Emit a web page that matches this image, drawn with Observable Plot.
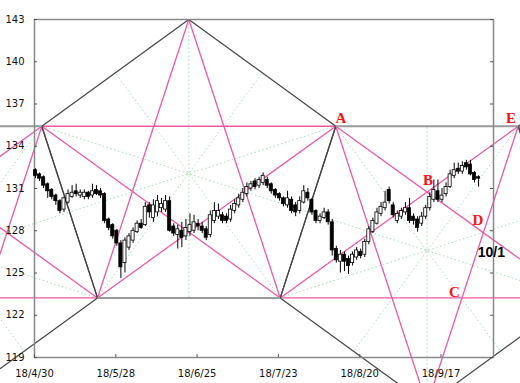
<!DOCTYPE html>
<html><head><meta charset="utf-8">
<script src="https://cdn.jsdelivr.net/npm/d3@7"></script>
<script src="https://cdn.jsdelivr.net/npm/@observablehq/plot@0.6"></script>
<style>html,body{margin:0;padding:0;background:#fff;overflow:hidden;} svg{display:block;overflow:hidden;}</style>
</head><body><div id="chart"></div>
<script>
// ---- candle data (trading-day index 0..109) ----
const opens  = [132.3,132.0,131.8,131.3,130.9,130.5,130.1,129.5,130.0,130.4,130.8,130.5,130.4,130.7,130.5,130.9,130.8,130.6,128.8,128.4,128.0,127.1,125.7,126.8,127.3,127.9,128.5,128.4,129.8,128.9,129.3,129.6,129.5,130.1,128.3,127.7,128.0,127.6,127.9,128.0,128.5,128.3,128.1,127.7,128.7,129.0,129.1,129.0,128.8,129.4,129.8,130.2,130.6,131.0,131.5,131.2,131.4,131.6,131.3,130.9,130.6,130.3,129.8,130.2,129.8,129.4,130.0,130.7,130.2,129.4,128.7,128.9,129.3,128.6,126.7,125.8,126.3,126.0,125.7,126.1,126.5,126.3,127.2,127.9,128.5,129.2,129.6,130.9,129.8,128.7,129.0,129.3,129.6,129.0,128.8,128.5,129.0,129.6,130.2,130.8,130.2,130.6,131.1,131.9,132.4,132.2,132.8,132.7,132.1,131.8];
const closes = [131.9,131.7,131.2,130.8,130.4,130.1,129.4,130.3,130.6,130.7,130.6,130.7,130.7,130.4,130.8,130.6,130.5,128.7,128.2,127.6,127.1,125.4,127.3,127.6,128.0,128.5,128.2,129.7,129.3,129.8,130.1,129.9,130.1,128.0,127.8,128.1,127.5,128.2,128.4,128.6,128.3,128.0,127.5,129.1,129.4,129.4,128.7,128.7,129.5,129.9,130.3,130.7,131.1,131.3,131.1,131.6,131.9,131.2,130.8,130.5,130.3,129.9,130.3,129.4,129.3,130.1,130.8,130.3,129.3,128.7,129.0,129.3,128.6,126.6,125.9,126.3,125.8,125.5,126.3,126.6,126.2,127.2,128.1,128.7,129.3,129.7,130.0,130.1,129.1,129.2,129.4,129.6,128.7,128.7,128.2,129.0,129.6,130.4,130.9,130.2,130.5,131.1,132.0,132.3,132.2,132.6,132.5,132.0,131.6,131.7];
const highs  = [132.4,132.1,131.9,131.4,131.0,130.6,130.2,130.4,130.9,131.2,131.3,130.9,130.9,130.8,131.3,131.2,131.0,130.7,128.9,128.5,128.1,127.3,127.5,127.8,128.2,128.7,128.8,130.0,130.0,130.2,130.5,130.3,130.5,130.4,128.5,128.4,128.6,128.8,129.2,129.1,128.8,128.6,128.3,129.4,130.0,129.9,129.3,129.2,129.8,130.2,130.6,131.0,131.4,131.5,131.7,131.8,132.1,131.8,131.4,131.0,130.7,130.4,130.8,130.4,130.0,130.4,131.2,131.0,130.3,129.5,129.2,129.6,129.5,128.8,126.9,126.6,126.5,126.2,126.5,126.8,126.7,127.4,128.3,128.9,129.6,130.0,130.8,131.1,130.0,129.4,129.6,130.0,130.3,129.2,129.0,129.3,129.8,130.7,131.6,131.6,131.0,131.4,132.3,132.8,132.8,132.9,133.0,133.0,132.2,131.9];
const lows   = [131.7,131.5,131.0,130.3,130.2,129.8,129.2,129.3,129.9,130.3,130.4,130.3,130.2,130.2,130.3,130.5,130.3,128.5,128.0,127.4,126.9,124.6,125.0,126.6,127.1,127.8,128.1,128.3,128.9,128.6,129.0,129.3,129.3,127.9,127.6,126.7,126.8,127.3,127.6,127.8,128.0,127.8,127.3,127.5,128.5,128.8,128.5,128.5,128.6,129.2,129.6,130.0,130.4,130.8,130.9,131.0,131.2,131.0,130.6,130.3,130.1,129.7,129.6,129.2,129.0,129.2,129.9,130.1,129.1,128.5,128.5,128.8,128.4,126.2,125.7,125.0,125.1,124.9,125.5,125.9,126.0,126.1,127.0,127.8,128.4,129.0,129.4,129.9,128.9,128.5,128.8,129.1,128.5,128.4,127.9,128.3,128.8,129.4,130.0,130.0,130.0,130.4,131.0,131.7,132.0,132.0,132.3,131.9,131.4,131.1];

// ---- axes ----
const xTicks  = [0, 20, 40, 60, 80, 100];
const xLabels = ["18/4/30", "18/5/28", "18/6/25", "18/7/23", "18/8/20", "18/9/17"];
const yTicks  = [119, 122, 125, 128, 131, 134, 137, 140, 143];

// ---- pentagon vertices (bar index, price) ----
const pent0 = [[1.80,135.42],[15.5,123.23],[-20.65,115.65],[-56.81,123.23],[-43.1,135.42]];
const pent1 = [[37.96,143.0],[74.12,135.42],[60.45,123.23],[15.5,123.23],[1.80,135.42]];
const pent2 = [[74.12,135.42],[119.0,135.42],[132.7,123.23],[96.56,115.65],[60.45,123.23]];
const pent3 = [[119.0,135.42],[155.16,143.0],[191.3,135.42],[177.6,123.23],[132.7,123.23]];

// ---- annotation labels ----
const markNames = ["A", "B", "C", "D", "E"];
const markX     = [75.4, 96.8, 103.3, 109.1, 117.2];
const markY     = [135.97, 131.57, 123.61, 128.72, 135.97];
const dateNote  = "10/1";
const dateNoteX = 112.4;
const dateNoteY = 126.47;

const candles = opens.map((o, i) => ({u: i + 0.25, o, c: closes[i], h: highs[i], l: lows[i]}));
const edges = [], stars = [], rays = [];
for (const P of [pent0, pent1, pent2, pent3]) {
  for (let i = 0; i < 5; i++) {
    const a = P[i], b = P[(i + 1) % 5], c = P[(i + 2) % 5], d = P[(i + 3) % 5];
    edges.push({x1: a[0], y1: a[1], x2: b[0], y2: b[1], flat: a[1] === b[1]});
    stars.push({x1: a[0], y1: a[1], x2: c[0], y2: c[1]});
    rays.push({x1: a[0], y1: a[1], x2: (c[0] + d[0]) / 2, y2: (c[1] + d[1]) / 2});
  }
}
const labelMap = new Map(xTicks.map((t, i) => [t, xLabels[i]]));
const notes = markNames.map((t, i) => ({t, x: markX[i], y: markY[i]}));

const chart = Plot.plot({
  width: 520, height: 383,
  marginLeft: 34, marginRight: 27, marginTop: 19, marginBottom: 26,
  x: {type: "linear", domain: [0, 112.92]},
  y: {type: "linear", domain: [119, 143]},
  style: {fontFamily: "DejaVu Sans", fontSize: "10px", background: "#fff", overflow: "hidden", color: "#111"},
  marks: [
    Plot.link(rays, {x1: "x1", y1: "y1", x2: "x2", y2: "y2", stroke: "#a6dcb4", strokeWidth: 1, strokeDasharray: "1.5,2.5"}),
    Plot.link(stars, {x1: "x1", y1: "y1", x2: "x2", y2: "y2", stroke: "#ec5aa6", strokeWidth: 1.3}),
    Plot.link(edges.filter(e => !e.flat), {x1: "x1", y1: "y1", x2: "x2", y2: "y2", stroke: "#444", strokeWidth: 1.2}),
    Plot.link(edges.filter(e => e.flat), {x1: "x1", y1: "y1", x2: "x2", y2: "y2", stroke: "#9a9a9a", strokeWidth: 2}),
    Plot.frame({stroke: "#888", strokeWidth: 1.5}),
    Plot.tickY(yTicks, {y: d => d, insetRight: 456, stroke: "#555"}),
    Plot.tickY(yTicks, {y: d => d, insetLeft: 456, stroke: "#555"}),
    Plot.tickX(xTicks, {x: d => d, insetTop: 335, stroke: "#555"}),
    Plot.axisY({ticks: yTicks, tickSize: 0, tickPadding: 10, fontSize: 10}),
    Plot.axisX({ticks: xTicks, tickFormat: d => labelMap.get(d), tickSize: 0, tickPadding: 12, fontSize: 10}),
    Plot.ruleX(candles, {x: "u", y1: "l", y2: "h", stroke: "#000", strokeWidth: 1}),
    Plot.rect(candles, {x1: d => d.u - 0.38, x2: d => d.u + 0.38, y1: d => Math.min(d.o, d.c), y2: d => Math.max(d.o, d.c),
      fill: d => d.c < d.o ? "#000" : "#fff", stroke: "#000", strokeWidth: 0.8}),
    Plot.text(notes, {x: "x", y: "y", text: "t", fill: "#ff1010", fontFamily: "Liberation Serif", fontWeight: "bold", fontSize: 15}),
    Plot.text([dateNote], {x: () => dateNoteX, y: () => dateNoteY, text: d => d, fill: "#000", fontFamily: "Liberation Sans", fontWeight: "bold", fontSize: 14})
  ]
});
document.getElementById("chart").appendChild(chart);
</script></body></html>
